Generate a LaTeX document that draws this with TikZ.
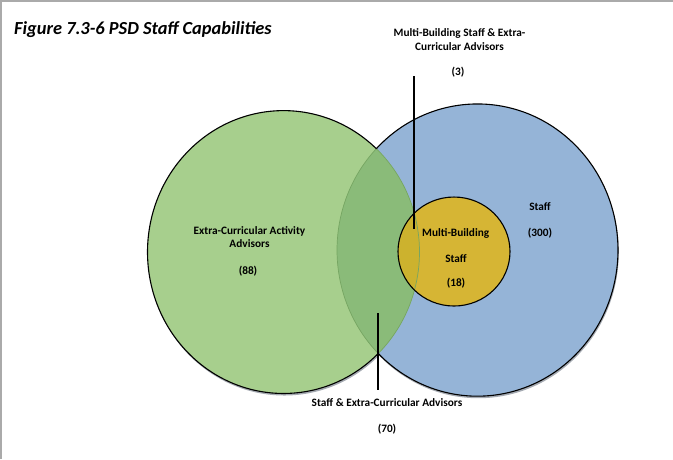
\documentclass[tikz,border=0pt]{standalone}
\usepackage{fontspec}
\setmainfont{Carlito}
\definecolor{gfill}{RGB}{167,207,141}
\definecolor{bfill}{RGB}{149,180,215}
\definecolor{ovl}{RGB}{138,187,121}
\definecolor{yfill}{RGB}{214,181,52}
\definecolor{ydark}{RGB}{204,178,46}
\definecolor{faint}{RGB}{118,165,98}
\definecolor{shadowc}{RGB}{165,170,178}
\definecolor{framec}{RGB}{170,170,170}
\begin{document}
\begin{tikzpicture}[x=1pt,y=-1pt,
  lbl/.style={font=\bfseries\fontsize{11.3}{13.7}\selectfont, align=center, inner sep=0pt},
  ttl/.style={font=\bfseries\itshape\fontsize{18.4}{22}\selectfont, inner sep=0pt},
  outline/.style={draw=black, line width=1.1pt},
  faintline/.style={draw=faint, line width=0.7pt},
  leader/.style={draw=black, line width=1.5pt}]
\useasboundingbox (0,0) rectangle (673,459);
\fill[white] (0,0) rectangle (673,459);
\draw[framec, line width=1.5pt] (0.75,459) -- (0.75,0.75) -- (673,0.75);

\begin{scope}[yscale=1.04]
  \coordinate (G) at (283.5,242.3);
  \coordinate (B) at (477.5,240.4);
  \coordinate (Y) at (454,241.8);
  % shadows
  \fill[shadowc] (284.3,244.3) circle (136);
  \fill[shadowc] (478.3,242.4) circle (140.5);
  % fills
  \fill[bfill] (B) circle (140.5);
  \fill[gfill] (G) circle (136);
  \begin{scope}
    \clip (B) circle (140.5);
    \fill[ovl] (G) circle (136);
  \end{scope}
  \fill[yfill] (Y) ellipse [x radius=56, y radius=52.4];
  \begin{scope}
    \clip (G) circle (136);
    \fill[ydark] (Y) ellipse [x radius=56, y radius=52.4];
  \end{scope}
  % faint inner boundaries
  \draw[faintline] (G) ++(-46.95:136) arc[start angle=-46.95, end angle=45.83, radius=136];
  \draw[faintline] (B) ++(134.94:140.5) arc[start angle=134.94, end angle=223.94, radius=140.5];
  % black outlines
  \draw[outline] (G) ++(45.83:136) arc[start angle=45.83, end angle=313.05, radius=136];
  \draw[outline] (B) ++(-136.06:140.5) arc[start angle=-136.06, end angle=134.94, radius=140.5];
  \draw[outline] (Y) ellipse [x radius=56, y radius=52.4];
\end{scope}

% title
\node[ttl, anchor=west] (title) at (14,30) {Figure 7.3-6 PSD Staff Capabilities};

% labels
\node[lbl] (mbx) at (459.5,39.3) {Multi-Building Staff \& Extra-\\Curricular Advisors};
\node[lbl] (mbxn) at (458,72) {(3)};
\node[lbl] (eca) at (249.5,237) {Extra-Curricular Activity\\Advisors};
\node[lbl] (ecan) at (248,271) {(88)};
\node[lbl] (mb1) at (455.7,233) {Multi-Building};
\node[lbl] (mb2) at (456,259) {Staff};
\node[lbl] (mbn) at (456,283) {(18)};
\node[lbl] (st) at (540,207) {Staff};
\node[lbl] (stn) at (540,233) {(300)};
\node[lbl] (sx) at (387,403) {Staff \& Extra-Curricular Advisors};
\node[lbl] (sxn) at (387,429) {(70)};

% leader lines
\coordinate (t1) at (414,76);
\coordinate (t2) at (414,229);
\coordinate (b1) at (378,313);
\coordinate (b2) at (378,390);
\draw[leader] (t1) -- (t2);
\draw[leader] (b1) -- (b2);
\end{tikzpicture}
\end{document}
